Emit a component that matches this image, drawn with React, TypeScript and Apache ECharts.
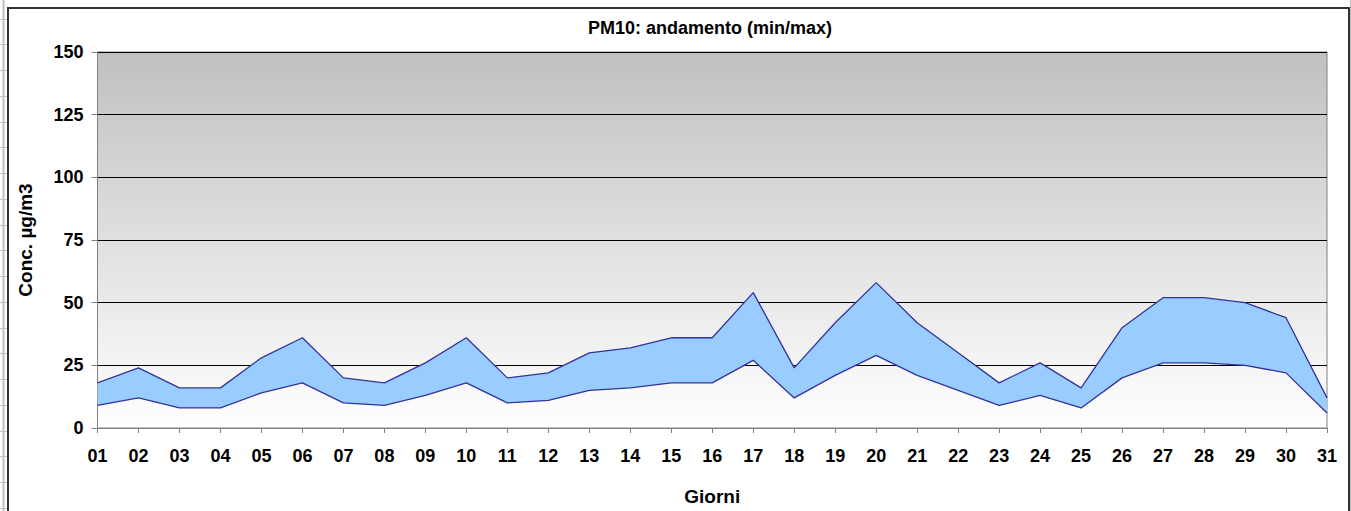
import React, { useEffect, useRef } from "react";
import * as echarts from "echarts";

const days = ["01","02","03","04","05","06","07","08","09","10","11","12","13","14","15","16","17","18","19","20","21","22","23","24","25","26","27","28","29","30","31"];
const minValues = [9,12,8,8,14,18,10,9,13,18,10,11,15,16,18,18,27,12,21,29,21,15,9,13,8,20,26,26,25,22,6];
const maxValues = [18,24,16,16,28,36,20,18,26,36,20,22,30,32,36,36,54,24,42,58,42,30,18,26,16,40,52,52,50,44,12];
const yTicks = { min: 0, max: 150, interval: 25 };

export default function App() {
  const ref = useRef<HTMLDivElement>(null);
  useEffect(() => {
    if (!ref.current) return;
    const chart = echarts.init(ref.current, null, { renderer: "svg" });
    const band = maxValues.map((v, i) => v - minValues[i]);
    const font = "Arial, 'Liberation Sans', sans-serif";

    const deco: any[] = [
      { type: "rect", shape: { x: 8, y: 8, width: 1341, height: 520 }, style: { fill: "none", stroke: "#333", lineWidth: 2 }, silent: true, z: 100 },
      { type: "line", shape: { x1: 3.5, y1: 0, x2: 3.5, y2: 511 }, style: { stroke: "#c0c0c0", lineWidth: 2 }, silent: true },
      { type: "line", shape: { x1: 1350.5, y1: 0, x2: 1350.5, y2: 511 }, style: { stroke: "#c0c0c0", lineWidth: 1 }, silent: true },
    ];
    for (let k = 0; k < 20; k++) {
      const y = Math.round(18.5 + k * 25.75) + 0.5;
      if (y > 511) break;
      deco.push({ type: "line", shape: { x1: 0, y1: y, x2: 7, y2: y }, style: { stroke: "#c0c0c0", lineWidth: 1 }, silent: true });
      deco.push({ type: "line", shape: { x1: 1350, y1: y, x2: 1351, y2: y }, style: { stroke: "#c0c0c0", lineWidth: 1 }, silent: true });
    }

    chart.setOption({
      animation: false,
      textStyle: { fontFamily: font },
      title: {
        text: "PM10: andamento (min/max)",
        left: 705,
        textAlign: "center",
        top: 14,
        textStyle: { fontSize: 18, fontWeight: "bold", color: "#000", fontFamily: font },
      },
      graphic: deco,
      grid: {
        left: 97.5,
        right: 24,
        top: 52,
        bottom: 83,
        show: true,
        borderColor: "#808080",
        borderWidth: 1,
        backgroundColor: new echarts.graphic.LinearGradient(0, 0, 0, 1, [
          { offset: 0, color: "#c0c0c0" },
          { offset: 1, color: "#ffffff" },
        ]),
      },
      xAxis: {
        type: "category",
        data: days,
        boundaryGap: false,
        name: "Giorni",
        nameLocation: "middle",
        nameGap: 59,
        nameTextStyle: { fontSize: 19, fontWeight: "bold", color: "#000", fontFamily: font },
        axisLine: { lineStyle: { color: "#808080", width: 1 } },
        axisTick: { show: true, length: 5, lineStyle: { color: "#808080" } },
        axisLabel: { fontSize: 18, fontWeight: "bold", color: "#000", margin: 19, fontFamily: font },
        splitLine: { show: false },
      },
      yAxis: {
        type: "value",
        min: yTicks.min,
        max: yTicks.max,
        interval: yTicks.interval,
        name: "Conc. µg/m3",
        nameLocation: "middle",
        nameGap: 63,
        nameRotate: 90,
        nameTextStyle: { fontSize: 19, fontWeight: "bold", color: "#000", fontFamily: font },
        axisLine: { show: true, lineStyle: { color: "#808080", width: 1 } },
        axisTick: { show: true, length: 6, lineStyle: { color: "#808080" } },
        axisLabel: { fontSize: 18, fontWeight: "bold", color: "#000", margin: 14, fontFamily: font },
        splitLine: { show: true, lineStyle: { color: "#000", width: 1 } },
      },
      series: [
        {
          name: "base",
          type: "line",
          stack: "band",
          data: minValues,
          symbol: "none",
          lineStyle: { width: 0, opacity: 0 },
          areaStyle: { opacity: 0 },
          silent: true,
        },
        {
          name: "max",
          type: "line",
          stack: "band",
          data: band,
          symbol: "none",
          lineStyle: { color: "#333399", width: 1.3 },
          areaStyle: { color: "#99ccff", opacity: 1 },
          silent: true,
        },
        {
          name: "min",
          type: "line",
          data: minValues,
          symbol: "none",
          lineStyle: { color: "#333399", width: 1.3 },
          z: 5,
          silent: true,
        },
      ],
    });
    return () => chart.dispose();
  }, []);
  return <div ref={ref} style={{ position: "absolute", left: 0, top: 0, width: 1351, height: 511 }} />;
}
